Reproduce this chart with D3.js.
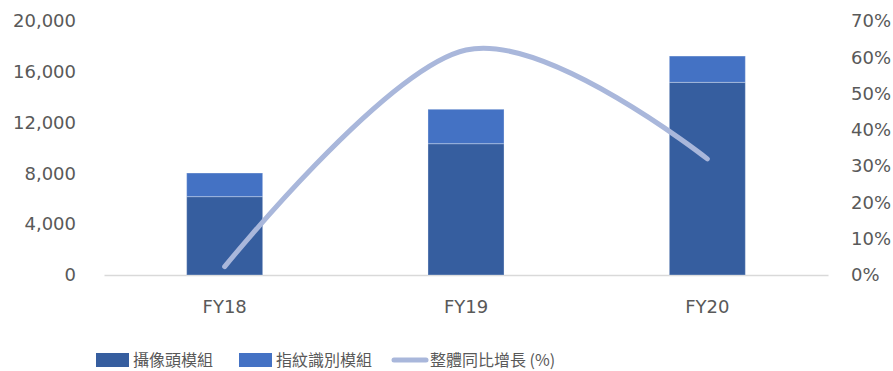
<!DOCTYPE html>
<html lang="zh-Hant">
<head>
<meta charset="UTF-8">
<title>攝像頭模組 / 指紋識別模組</title>
<script src="https://d3js.org/d3.v7.min.js"></script>
<style>
    body { margin: 0; background: #fff; }
    svg text { font-family: "DejaVu Sans", sans-serif; fill: #595959; }
    .legend text { font-family: "Noto Sans CJK TC", "Noto Sans", sans-serif; }
</style>
</head>
<body>
<svg width="893" height="371"></svg>
<script>
// data
const categories = ["FY18", "FY19", "FY20"];
const cameraModule = [6170, 10340, 15170];      // 攝像頭模組
const fingerprintModule = [1860, 2710, 2070];   // 指紋識別模組
const growthPct = [2.3, 62.0, 32.0];            // 整體同比增長 (%)
const leftTicks = [0, 4000, 8000, 12000, 16000, 20000];
const rightTicks = [0, 10, 20, 30, 40, 50, 60, 70];
const seriesNames = ["攝像頭模組", "指紋識別模組", "整體同比增長 (%)"];

const svg = d3.select("svg");
const margin = { top: 21, right: 65, bottom: 96, left: 104 };
const width = +svg.attr("width") - margin.left - margin.right;
const height = +svg.attr("height") - margin.top - margin.bottom;
const g = svg.append("g").attr("transform", `translate(${margin.left},${margin.top})`);

const colors = ["#365E9F", "#4472C4", "#A9B7DB"];

const x = d3.scaleBand().domain(categories).range([0, width])
    .paddingInner(0.685).paddingOuter(0.3425);
const y = d3.scaleLinear().domain([0, 20000]).range([height, 0]);
const y2 = d3.scaleLinear().domain([0, 70]).range([height, 0]);

// left axis
g.append("g")
    .call(d3.axisLeft(y).tickValues(leftTicks).tickSize(0).tickPadding(28)
        .tickFormat(d3.format(",")))
    .call(a => a.select(".domain").remove())
    .selectAll("text").attr("font-size", 18).style("font-family", "DejaVu Sans");

// right axis
g.append("g")
    .attr("transform", `translate(${width},0)`)
    .call(d3.axisRight(y2).tickValues(rightTicks).tickSize(0).tickPadding(23)
        .tickFormat(d => d + "%"))
    .call(a => a.select(".domain").remove())
    .selectAll("text").attr("font-size", 18).style("font-family", "DejaVu Sans");

// bottom axis
g.append("g")
    .attr("transform", `translate(0,${height})`)
    .call(d3.axisBottom(x).tickSize(0).tickSizeOuter(0).tickPadding(25))
    .call(a => a.select(".domain").attr("stroke", "#D9D9D9").attr("stroke-width", 1.5))
    .selectAll("text").attr("font-size", 18).style("font-family", "DejaVu Sans");

// stacked bars
const stackData = categories.map((c, i) => ({ cat: c, camera: cameraModule[i], finger: fingerprintModule[i] }));
const stacked = d3.stack().keys(["camera", "finger"])(stackData);

g.selectAll(".series")
    .data(stacked)
    .enter().append("g")
    .attr("fill", (d, i) => colors[i])
    .selectAll("rect")
    .data(d => d)
    .enter().append("rect")
    .attr("x", d => x(d.data.cat))
    .attr("y", d => y(d[1]))
    .attr("width", x.bandwidth())
    .attr("height", d => y(d[0]) - y(d[1]))
    .attr("stroke", "#ffffff")
    .attr("stroke-opacity", 0.3)
    .attr("stroke-width", 1);

// growth line on right axis
const line = d3.line()
    .x((d, i) => x(categories[i]) + x.bandwidth() / 2)
    .y(d => y2(d))
    .curve(d3.curveCatmullRom.alpha(0));

g.append("path")
    .datum(growthPct)
    .attr("d", line)
    .attr("fill", "none")
    .attr("stroke", colors[2])
    .attr("stroke-width", 5)
    .attr("stroke-linecap", "round");

// legend
const legend = svg.append("g").attr("class", "legend");
const legendX = [96, 239, 392];
const legendY = 360;

legendX.forEach((lx, i) => {
    if (i < 2) {
        legend.append("rect")
            .attr("x", lx).attr("y", legendY - 7)
            .attr("width", 33).attr("height", 14)
            .attr("fill", colors[i]);
    } else {
        legend.append("line")
            .attr("x1", lx + 2).attr("x2", lx + 34)
            .attr("y1", legendY).attr("y2", legendY)
            .attr("stroke", colors[2]).attr("stroke-width", 5)
            .attr("stroke-linecap", "round");
    }
    legend.append("text")
        .attr("x", lx + (i < 2 ? 37 : 38))
        .attr("y", legendY)
        .attr("dy", "0.35em")
        .attr("font-size", 16)
        .text(seriesNames[i]);
});
</script>
</body>
</html>
